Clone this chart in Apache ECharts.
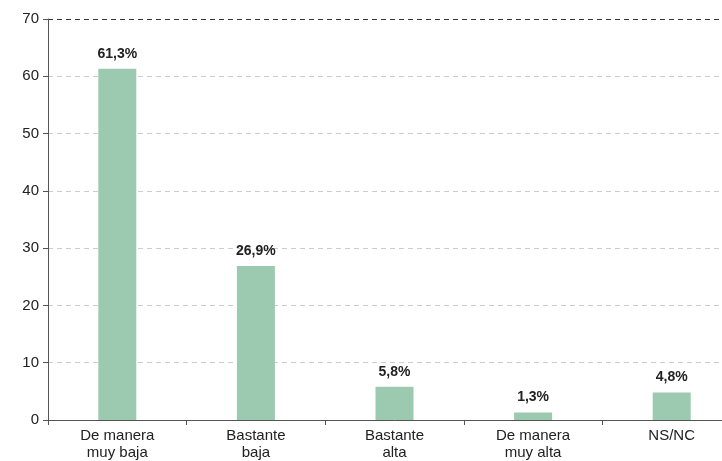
<!DOCTYPE html>
<html>
<head>
<meta charset="utf-8">
<script src="https://cdn.jsdelivr.net/npm/echarts@6/dist/echarts.min.js"></script>
<style>
  html, body { margin: 0; padding: 0; background: #fff; overflow: hidden; }
  /* the plot runs past the right edge of the window, as in the original */
  #main { width: 741px; height: 461px; }
</style>
</head>
<body>
<div id="main"></div>
<script>
var categories = ['De manera\nmuy baja', 'Bastante\nbaja', 'Bastante\nalta', 'De manera\nmuy alta', 'NS/NC'];
var values = [61.3, 26.9, 5.8, 1.3, 4.8];
var yTicks = [0, 10, 20, 30, 40, 50, 60, 70];

var myChart = echarts.init(document.getElementById('main'));
myChart.setOption({
  animation: false,
  grid: { left: 48, right: 0, top: 19, bottom: 40, containLabel: false },
  xAxis: {
    type: 'category',
    data: categories,
    axisLine: { lineStyle: { color: '#555', width: 1 } },
    axisTick: { show: true, length: 5, lineStyle: { color: '#555' } },
    axisLabel: {
      color: '#222', fontSize: 15, fontFamily: 'Liberation Sans, Arial, sans-serif',
      lineHeight: 17, margin: 7, interval: 0
    }
  },
  yAxis: {
    type: 'value',
    min: yTicks[0],
    max: yTicks[yTicks.length - 1],
    interval: 10,
    axisLine: { show: true, lineStyle: { color: '#555', width: 1 } },
    axisTick: { show: true, length: 5, lineStyle: { color: '#555' } },
    axisLabel: { color: '#222', fontSize: 15, fontFamily: 'Liberation Sans, Arial, sans-serif', margin: 9 },
    splitLine: {
      show: true,
      lineStyle: {
        type: [5, 4],
        width: 1,
        color: ['#ccc', '#ccc', '#ccc', '#ccc', '#ccc', '#ccc', '#ccc', '#333']
      }
    }
  },
  series: [{
    type: 'bar',
    data: values,
    barWidth: 38,
    itemStyle: { color: '#9ccab0' },
    label: {
      show: true,
      position: 'top',
      distance: 8,
      color: '#222',
      fontSize: 14,
      fontWeight: 'bold',
      fontFamily: 'Liberation Sans, Arial, sans-serif',
      formatter: function (p) { return String(p.value).replace('.', ',') + '%'; }
    }
  }]
});
</script>
</body>
</html>
